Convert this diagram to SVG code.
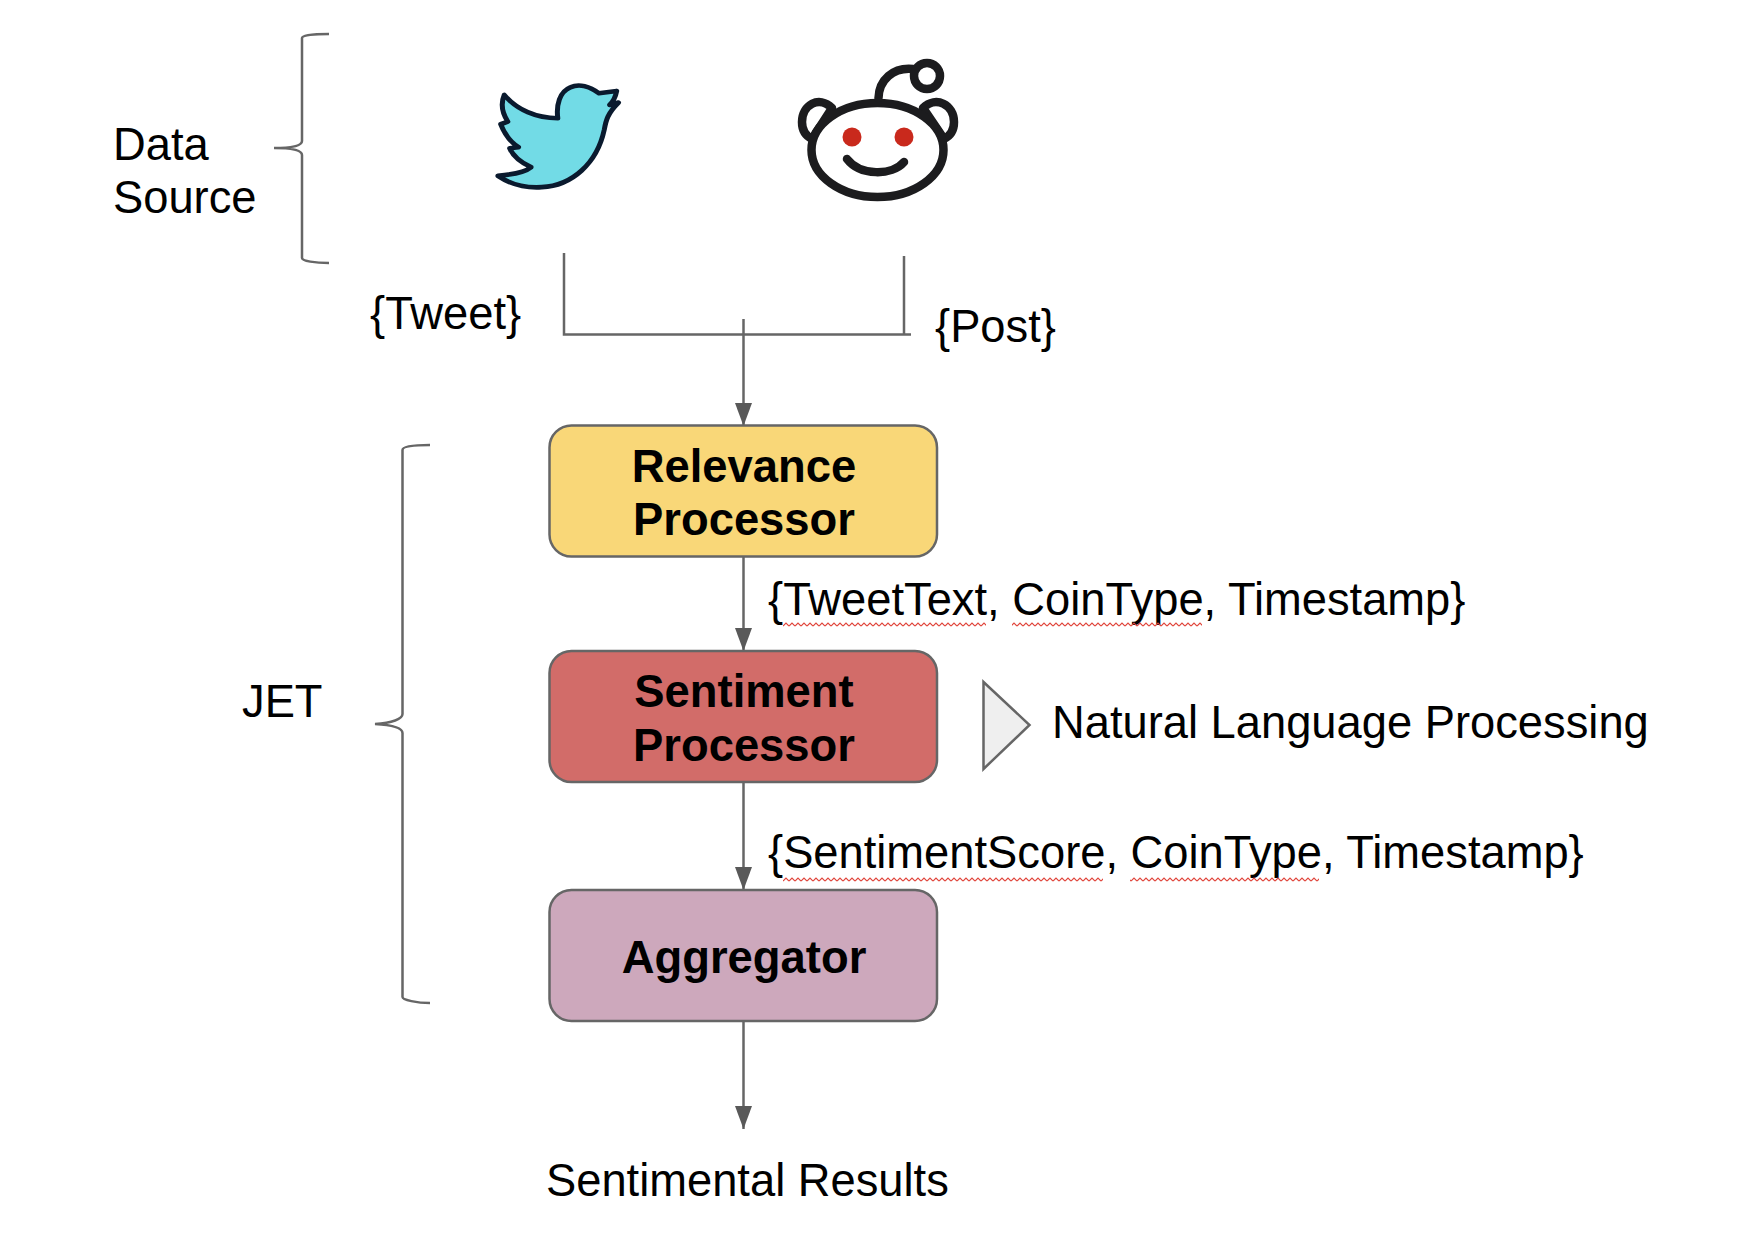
<svg xmlns="http://www.w3.org/2000/svg" width="1762" height="1246" viewBox="0 0 1762 1246">
<style>
text{font-family:"Liberation Sans",Arial,sans-serif;font-size:45.3px;fill:#000}
.b{font-weight:bold;text-anchor:middle;font-size:45.4px}
.box{stroke:#666;stroke-width:2.5}
.ln{fill:none;stroke:#666;stroke-width:2.5}
.br{fill:none;stroke:#666;stroke-width:2.5}
.rd{fill:none;stroke:#1c1c1e;stroke-width:8.500;stroke-linecap:round}
.eye{fill:#c9291c}
</style>
<defs>
<marker id="ah" markerUnits="userSpaceOnUse" markerWidth="24" markerHeight="18" refX="23" refY="8.5" orient="auto"><path d="M0,0L23,8.5L0,17z" fill="#595959"/></marker>
<pattern id="sq" patternUnits="userSpaceOnUse" width="6" height="5" x="783" y="622"><path d="M0,4L3,1L6,4" fill="none" stroke="#e0443a" stroke-width="1.200"/></pattern>
</defs>
<rect width="1762" height="1246" fill="#fff"/>
<g id="connectors">
<path class="ln" d="M564,253V334.500H911M904,256V334.500"/>
<path class="ln" d="M743.500,319V426" marker-end="url(#ah)"/>
<path class="ln" d="M743.500,556V651" marker-end="url(#ah)"/>
<path class="ln" d="M743.500,782V890" marker-end="url(#ah)"/>
<path class="ln" d="M743.500,1021V1129" marker-end="url(#ah)"/>
</g>
<g id="data-source"><text x="113" y="160">Data</text><text x="113" y="213">Source</text>
<path class="br" d="M329,34C315,34 302,35 302,38V141C302,146 292,148 274,148C292,148 302,150 302,155V258C302,261 315,263 329,263"/></g>
<g id="twitter"><g transform="translate(440 30) scale(.357 .333)">
<path d="M495,183L445,190C420,170 390,160 365,172C335,185 325,225 330,265C270,265 215,240 180,195C170,220 175,250 190,275L170,283C180,310 195,335 220,352L195,355C205,380 230,400 255,412C235,430 195,435 162,438C195,462 240,475 285,472C370,468 440,400 460,300C465,270 470,250 500,218L475,225C485,215 492,200 495,183Z" fill="#72dbe6" stroke="#0a1a2e" stroke-width="14" stroke-linejoin="round"/>
</g></g>
<g id="reddit">
<path class="rd" d="M832,108C819,95 802,105 802,122C802,131 806,136 812,139M832,108L812,139"/>
<path class="rd" d="M923,108C936,95 954,105 954,122C954,131 950,136 944,139M923,108L944,139"/>
<ellipse class="rd" cx="877.5" cy="150" rx="66" ry="47" style="fill:#fff"/>
<path class="rd" d="M878.500,98C879,80 893,67 913,69"/>
<circle class="rd" cx="927" cy="76" r="13" style="fill:#fff"/>
<circle class="eye" cx="852" cy="137" r="9.500"/><circle class="eye" cx="904" cy="137" r="9.500"/>
<path class="rd" d="M847,159C860,176 892,176 904,162"/>
</g>
<text id="tweet-label" x="370" y="329">{Tweet}</text>
<text id="post-label" x="935" y="342">{Post}</text>
<g id="jet"><text x="242" y="717">JET</text>
<path class="br" d="M430,445C417,445 402.500,446 402.500,450V714C402.500,719 392,723 375,724C392,725 402.500,728 402.500,733V997C402.500,1000 417,1003 430,1003"/></g>
<g id="relevance"><rect class="box" x="549.500" y="425.500" width="387.500" height="131" rx="22" fill="#f9d778"/><text class="b" x="744" y="482">Relevance</text><text class="b" x="744" y="535">Processor</text></g>
<g id="sentiment"><rect class="box" x="549.500" y="651" width="387.500" height="131" rx="22" fill="#d26c69"/><text class="b" x="744" y="707">Sentiment</text><text class="b" x="744" y="761">Processor</text></g>
<g id="aggregator"><rect class="box" x="549.500" y="890" width="387.500" height="131" rx="22" fill="#cda8bc"/><text class="b" x="744" y="973">Aggregator</text></g>
<g id="nlp"><path d="M988,682L1034,725L988,769Z" fill="#efefef" stroke="#666" stroke-width="2.500" transform="translate(-4.500 0)"/><text x="1052" y="738">Natural Language Processing</text></g>
<g id="labels">
<text x="768" y="615">{TweetText, CoinType, Timestamp}</text>
<rect x="783" y="622" width="203" height="5" fill="url(#sq)"/><rect x="1012" y="622" width="190" height="5" fill="url(#sq)"/>
<text x="768" y="868">{SentimentScore, CoinType, Timestamp}</text>
<rect x="783" y="877" width="320" height="5" fill="url(#sq)"/><rect x="1130" y="877" width="189" height="5" fill="url(#sq)"/>
<text x="546" y="1196">Sentimental Results</text>
</g>
</svg>
